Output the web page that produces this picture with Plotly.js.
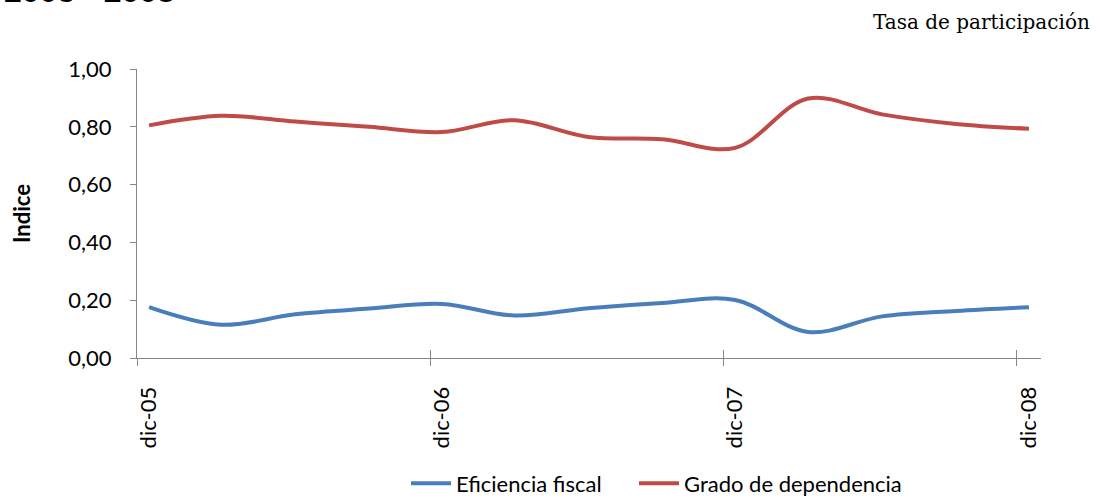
<!DOCTYPE html>
<html>
<head>
<meta charset="utf-8">
<script src="https://cdn.plot.ly/plotly-3.0.1.min.js"></script>
<style>
  html, body { margin: 0; padding: 0; background: #fff; }
  #chart { width: 1096px; height: 497px; }
</style>
</head>
<body>
<div id="chart"></div>
<script>
// ---- Data ----
const periods = ['2005-12-01','2006-03-01','2006-06-01','2006-09-01','2006-12-01','2007-03-01','2007-06-01','2007-09-01','2007-12-01','2008-03-01','2008-06-01','2008-09-01','2008-12-01'];
const eficienciaFiscal = [0.176, 0.115, 0.151, 0.171, 0.187, 0.147, 0.172, 0.190, 0.201, 0.090, 0.144, 0.163, 0.176];
const gradoDependencia = [0.805, 0.838, 0.818, 0.800, 0.782, 0.823, 0.765, 0.757, 0.727, 0.898, 0.843, 0.810, 0.793];
const seriesNames = ['Eficiencia fiscal', 'Grado de dependencia'];
const tickDates = ['2005-12-01','2006-12-01','2007-12-01','2008-12-01'];
const tickLabels = ['dic-05','dic-06','dic-07','dic-08'];
const tickBoundaries = ['2005-11-16','2006-11-16','2007-11-16','2008-11-16'];
const xRange = ['2005-11-16','2008-12-16'];
const yTicks = [0, 0.2, 0.4, 0.6, 0.8, 1.0];

const axisGray = '#868686';
const fam = 'Lato, "Open Sans", sans-serif';
const labelFont = { family: fam, size: 22, color: '#000' };

const traces = [
  { x: periods, y: eficienciaFiscal, name: seriesNames[0], type: 'scatter', mode: 'lines', legend: 'legend',
    line: { color: '#4A7EBB', width: 4, shape: 'spline', smoothing: 1 } },
  { x: periods, y: gradoDependencia, name: seriesNames[1], type: 'scatter', mode: 'lines', legend: 'legend2',
    line: { color: '#BE4B48', width: 4, shape: 'spline', smoothing: 1 } }
];

const legendBase = {
  orientation: 'h', xanchor: 'left', y: -0.434, yanchor: 'middle',
  font: { family: fam, size: 22, color: '#000' }, bgcolor: 'rgba(0,0,0,0)', itemwidth: 40
};

const layout = {
  width: 1096, height: 497,
  margin: { l: 137, r: 55, t: 69, b: 139, pad: 0, autoexpand: false },
  paper_bgcolor: '#fff', plot_bgcolor: '#fff',
  separators: ',.',
  showlegend: true,
  hovermode: false,
  xaxis: {
    type: 'date', range: xRange, automargin: false,
    showline: true, linecolor: axisGray, linewidth: 1,
    showgrid: false, zeroline: false,
    tickmode: 'array', tickvals: tickDates, ticktext: tickLabels,
    ticks: 'outside', ticklen: 0, tickcolor: axisGray,
    tickangle: -90, tickfont: labelFont, ticklabelstandoff: 19,
    minor: { tickmode: 'array', tickvals: tickBoundaries, ticks: 'outside', ticklen: 7, tickcolor: axisGray, tickwidth: 1, showgrid: false }
  },
  xaxis2: {
    type: 'date', range: xRange, overlaying: 'x', anchor: 'y', side: 'bottom', automargin: false,
    showline: false, showgrid: false, zeroline: false, showticklabels: false,
    tickmode: 'array', tickvals: tickBoundaries,
    ticks: 'inside', ticklen: 8, tickcolor: axisGray, tickwidth: 1
  },
  yaxis: {
    range: [0, 1], tickmode: 'array', tickvals: yTicks, tickformat: '.2f', automargin: false,
    showline: true, linecolor: axisGray, linewidth: 1,
    showgrid: false, zeroline: false,
    ticks: 'outside', ticklen: 6, tickcolor: axisGray,
    tickfont: labelFont, ticklabelstandoff: 14,
    title: { text: '<b>Indice</b>', font: { family: fam, size: 22, color: '#000' }, standoff: 31 }
  },
  legend: Object.assign({}, legendBase, { x: (406 - 137) / 904 }),
  legend2: Object.assign({}, legendBase, { x: (634 - 137) / 904 }),
  annotations: [
    { text: '<b>2005 - 2008</b>', xref: 'paper', yref: 'paper', x: (177 - 137) / 904, y: 1.199,
      xanchor: 'right', yanchor: 'bottom', showarrow: false,
      font: { family: '"Liberation Sans", Arial, sans-serif', size: 32, color: '#000' } },
    { text: 'Tasa de participación', xref: 'paper', yref: 'paper', x: 1.0564, y: 1.162,
      xanchor: 'right', yanchor: 'middle', showarrow: false,
      font: { family: '"DejaVu Serif", serif', size: 20, color: '#000' } }
  ]
};

// empty helper trace so the overlaying axis (inner half of the tick marks) is drawn
traces.push({ x: [], y: [], xaxis: 'x2', yaxis: 'y', showlegend: false, hoverinfo: 'skip', type: 'scatter', mode: 'lines' });

Plotly.newPlot('chart', traces, layout, { displayModeBar: false, staticPlot: true });
</script>
</body>
</html>
